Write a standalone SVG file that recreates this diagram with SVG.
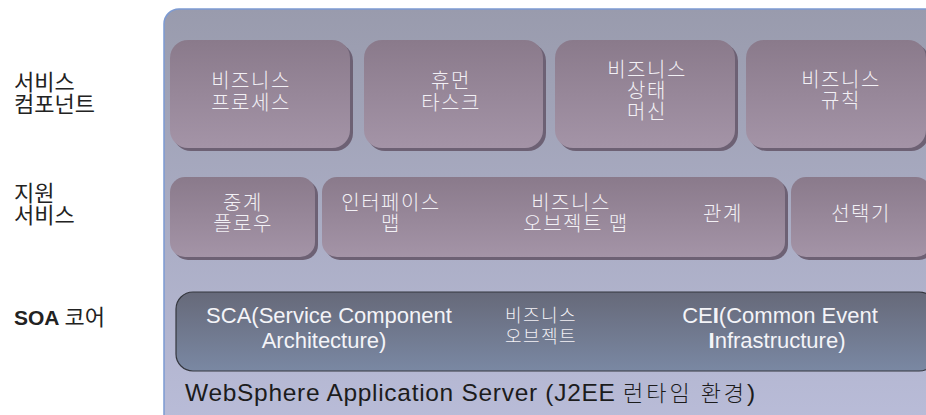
<svg xmlns="http://www.w3.org/2000/svg" width="926" height="415" viewBox="0 0 926 415">
<defs>
<linearGradient id="gBg" x1="0" y1="0" x2="0" y2="1">
<stop offset="0" stop-color="#999bad"/>
<stop offset="1" stop-color="#bcbfdc"/>
</linearGradient>
<linearGradient id="gBox" x1="0" y1="0" x2="0" y2="1">
<stop offset="0" stop-color="#8a7a8b"/>
<stop offset="1" stop-color="#a494a7"/>
</linearGradient>
<linearGradient id="gCore" x1="0" y1="0" x2="0" y2="1">
<stop offset="0" stop-color="#666979"/>
<stop offset="1" stop-color="#7a88a3"/>
</linearGradient>
<style>
.shadow{fill:#6d6174}
.box{fill:url(#gBox)}
.kt{font-family:"Noto Sans CJK KR","Liberation Sans",sans-serif;font-weight:300;font-size:20px;letter-spacing:1.5px;fill:#f2f0f5;text-anchor:middle}
.et{font-family:"Liberation Sans",Arial,sans-serif;font-size:22px;fill:#f4f4f8;text-anchor:middle}
.lbl{font-family:"Noto Sans CJK KR","Liberation Sans",sans-serif;font-size:22px;fill:#222;font-weight:400}
</style>
</defs>
<g id="container">
<rect x="164" y="9" width="800" height="450" rx="15" fill="url(#gBg)" stroke="#7c9ad2" stroke-width="1.5"/>
</g>
<g id="labels">
<text class="lbl"><tspan x="14" y="90">서비스</tspan><tspan x="14" y="112">컴포넌트</tspan></text>
<text class="lbl"><tspan x="14" y="201">지원</tspan><tspan x="14" y="223">서비스</tspan></text>
<text class="lbl" x="14" y="325"><tspan font-family="Liberation Sans,Arial,sans-serif" font-weight="bold" font-size="21">SOA</tspan> 코어</text>
</g>
<g id="business-process">
<rect class="shadow" x="173" y="43" width="180" height="108" rx="18"/>
<rect class="box" x="170" y="40" width="180" height="108" rx="18"/>
<text class="kt"><tspan x="251" y="88">비즈니스</tspan><tspan x="251" y="110">프로세스</tspan></text>
</g>
<g id="human-task">
<rect class="shadow" x="367" y="43" width="179" height="108" rx="18"/>
<rect class="box" x="364" y="40" width="179" height="108" rx="18"/>
<text class="kt"><tspan x="451" y="88">휴먼</tspan><tspan x="451" y="110">타스크</tspan></text>
</g>
<g id="business-state-machine">
<rect class="shadow" x="558" y="43" width="180" height="108" rx="18"/>
<rect class="box" x="555" y="40" width="180" height="108" rx="18"/>
<text class="kt"><tspan x="647" y="77">비즈니스</tspan><tspan x="647" y="98">상태</tspan><tspan x="647" y="119">머신</tspan></text>
</g>
<g id="business-rules">
<rect class="shadow" x="749" y="43" width="180" height="108" rx="18"/>
<rect class="box" x="746" y="40" width="180" height="108" rx="18"/>
<text class="kt"><tspan x="841" y="87">비즈니스</tspan><tspan x="841" y="108">규칙</tspan></text>
</g>
<g id="mediation-flow">
<rect class="shadow" x="173" y="180" width="145" height="80" rx="15"/>
<rect class="box" x="170" y="177" width="145" height="80" rx="15"/>
<text class="kt"><tspan x="243" y="210">중계</tspan><tspan x="243" y="231">플로우</tspan></text>
</g>
<g id="maps-relations">
<rect class="shadow" x="325" y="180" width="463" height="80" rx="15"/>
<rect class="box" x="322" y="177" width="463" height="80" rx="15"/>
<text class="kt"><tspan x="391" y="210">인터페이스</tspan><tspan x="391" y="231">맵</tspan></text>
<text class="kt"><tspan x="571" y="210">비즈니스</tspan><tspan x="576" y="231">오브젝트 맵</tspan></text>
<text class="kt" x="723" y="221">관계</text>
</g>
<g id="selector">
<rect class="shadow" x="794" y="180" width="140" height="80" rx="15"/>
<rect class="box" x="791" y="177" width="140" height="80" rx="15"/>
<text class="kt" x="861" y="221">선택기</text>
</g>
<g id="soa-core">
<rect x="176" y="292" width="760" height="79" rx="17" fill="url(#gCore)" stroke="#35373f" stroke-width="1.2"/>
<text class="et"><tspan x="329" y="323">SCA(Service Component</tspan><tspan x="324" y="348">Architecture)</tspan></text>
<text class="kt" style="font-size:18px"><tspan x="541" y="322">비즈니스</tspan><tspan x="541" y="343">오브젝트</tspan></text>
<text class="et"><tspan x="780" y="323">CE<tspan font-weight="bold">I</tspan>(Common Event</tspan><tspan x="777" y="348"><tspan font-weight="bold">I</tspan>nfrastructure)</tspan></text>
</g>
<g id="server-label">
<text x="185" y="401" font-family="Liberation Sans,Arial,'Noto Sans CJK KR',sans-serif" font-size="24.5" letter-spacing="0.7" fill="#1c1c1c">WebSphere Application Server (J2EE <tspan font-family="'Noto Sans CJK KR',sans-serif" font-weight="300" font-size="22" letter-spacing="3">런타임 환경</tspan>)</text>
</g>
</svg>
